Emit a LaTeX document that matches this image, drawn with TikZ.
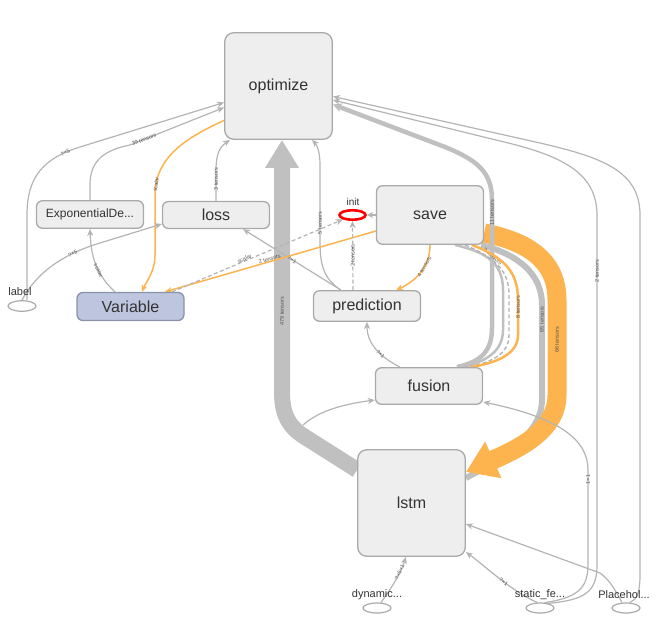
\documentclass[tikz,border=0pt]{standalone}
\usepackage{fontspec}
\setmainfont{Liberation Sans}
\usetikzlibrary{arrows.meta,shapes.geometric,calc}
\definecolor{boxfill}{HTML}{EEEEEE}
\definecolor{boxline}{HTML}{A9A9A9}
\definecolor{varfill}{HTML}{BDC6DE}
\definecolor{varline}{HTML}{8A93A8}
\definecolor{edgegray}{HTML}{B4B4B4}
\definecolor{bandgray}{HTML}{C0C0C0}
\definecolor{reforange}{HTML}{FDB44F}
\definecolor{txt}{HTML}{333333}
\definecolor{ltxt}{HTML}{555555}
\pgfdeclarelayer{bg}
\pgfsetlayers{bg,main}
\begin{document}
\begin{tikzpicture}[x=1pt,y=-1pt,
  box/.style={draw=boxline, fill=boxfill, line width=1.3pt, rounded corners=6pt, inner sep=0pt,
    text=txt, font=\fontsize{16}{16}\selectfont, minimum width=107pt},
  bigbox/.style={box, rounded corners=9pt, minimum width=107.5pt, minimum height=106.5pt},
  varbox/.style={box, draw=varline, fill=varfill},
  opnode/.style={ellipse, draw=boxline, line width=1.2pt, minimum width=28pt, minimum height=10pt, inner sep=0pt},
  optext/.style={font=\fontsize{11}{11}\selectfont, text=txt, inner sep=0pt},
  elabel/.style={font=\fontsize{5.5}{5.5}\selectfont, text=ltxt, inner sep=0.3pt},
  thin/.style={draw=edgegray, line width=1.2pt},
  edge/.style={thin, -{Stealth[length=7pt,width=6pt,inset=2pt]}},
  dedge/.style={edge, dashed, dash pattern=on 4pt off 2.5pt},
  oedge/.style={draw=reforange, line width=1.5pt, -{Stealth[length=7pt,width=6pt,inset=2pt]}},
  gthick/.style={draw=bandgray, line width=4.5pt},
  band/.style={draw=bandgray, line width=16pt},
  oband/.style={draw=reforange, line width=19pt},
]
\useasboundingbox (0,0) rectangle (659,631);

% nodes
\node[bigbox] (opt) at (278.5,86) {optimize};
\node[bigbox] (lstm) at (411.5,503) {lstm};
\node[box, minimum height=58.5pt] (save) at (430,215) {save};
\node[box, minimum height=27.5pt, font=\fontsize{12}{12}\selectfont] (expd) at (90,214.5) {ExponentialDe...};
\node[box, minimum height=27pt] (loss) at (216,215) {loss};
\node[varbox, minimum height=28pt] (var) at (130.5,306.5) {Variable};
\node[box, minimum height=30.5pt] (pred) at (367,306) {prediction};
\node[box, minimum height=36.5pt] (fusion) at (429,386) {fusion};

\node[ellipse, draw=red, line width=2.6pt, minimum width=26pt, minimum height=9.5pt, inner sep=0pt] (init) at (352.5,215) {};
\node[optext, font=\fontsize{10}{10}\selectfont] (inittxt) at (353,202) {init};
\node[opnode, minimum height=10.5pt] (lab) at (22,306) {};
\node[optext] (labtxt) at (20,292) {label};
\node[opnode] (dyn) at (377,608) {};
\node[optext] (dyntxt) at (377,595) {dynamic...};
\node[opnode] (stat) at (540,608) {};
\node[optext] (stattxt) at (540,595) {static\_fe...};
\node[opnode] (ph) at (626,608) {};
\node[optext] (phtxt) at (624,595) {Placehol...};
\coordinate (lstmtap) at (303,425);

\begin{pgfonlayer}{bg}
% thick bands
\draw[band, -{Triangle[length=28pt,width=32pt]}] ([yshift=33pt]lstm.west) -- (305,437)
  .. controls (289,427) and (282,415) .. (282,392)
  -- node[elabel, rotate=90, pos=0.32] {479 tensors} ([xshift=3.5pt]opt.south);
\draw[draw=bandgray, line width=6pt] ([xshift=-3pt]save.south east) .. controls (520,255) and (542,275) .. (542,305)
  -- node[elabel, rotate=90, pos=0.15] {65 tensors} (542,400)
  .. controls (542,430) and (510,455) .. ([yshift=25pt]lstm.east);
\draw[oband, -{Triangle[length=30pt,width=38pt]}] ([yshift=-18pt]save.east) .. controls (530,242) and (557,262) .. (557,300)
  -- node[elabel, rotate=90, pos=0.42] {66 tensors} (557,395)
  .. controls (557,430) and (520,448) .. ([yshift=31pt]lstm.east);
\draw[gthick, -{Stealth[length=9pt,width=9pt]}] ([xshift=28pt]fusion.north) .. controls (480,362) and (492,352) .. (492,328)
  -- node[elabel, rotate=90, pos=0.9] {11 tensors} (492,200)
  .. controls (492,172) and (477,160) .. (445,147) -- ([yshift=-18.5pt]opt.east);

% save -> fusion bundle
\draw[draw=bandgray, line width=2.5pt] ([xshift=25pt]save.south) .. controls (485,252) and (503,262) .. (503,290)
  node[elabel, sloped, pos=0.5, above=0.5pt] {3 tensors}
  -- (503,330) .. controls (503,352) and (485,362) .. ([xshift=33pt]fusion.north);
\draw[thin, dashed, dash pattern=on 4pt off 2.5pt, line width=1.4pt] ([xshift=35pt]save.south) .. controls (495,258) and (509,270) .. (509,295)
  -- (509,335) .. controls (509,355) and (490,363) .. ([xshift=37pt]fusion.north);
\draw[draw=reforange, line width=2.5pt] ([xshift=42pt]save.south) .. controls (505,258) and (518,272) .. (518,300)
  -- node[elabel, rotate=90, pos=0.2] {8 tensors} (518,335)
  .. controls (518,355) and (495,363) .. ([xshift=42pt]fusion.north);

% into optimize
\draw[edge] ([xshift=5pt]lab.north) -- (27,215) .. controls (27,175) and (45,158) .. (80,147)
  node[elabel, sloped, pos=0.85] {?×5} -- ([yshift=-16.5pt]opt.west);
\draw[edge] (expd.north) -- (90,185) .. controls (90,160) and (105,150) .. (130,145)
  -- node[elabel, sloped, pos=0.15] {39 tensors} ([yshift=-21.5pt]opt.west);
\draw[oedge] ([yshift=-34.5pt]opt.west) .. controls (185,138) and (155,158) .. (155,195)
  node[elabel, sloped, pos=0.9] {scalar}
  -- (155,255) .. controls (155,272) and (146,282) .. ([xshift=11.5pt]var.north);
\draw[edge] (loss.north) -- node[elabel, sloped, pos=0.7] {3 tensors} (216,170)
  .. controls (216,152) and (221,146) .. ([xshift=-48.5pt]opt.south);
\draw[edge] ([xshift=-26pt]pred.north) .. controls (322,278) and (320,262) .. (320,240)
  -- node[elabel, sloped, pos=0.23] {5 tensors} (320,165)
  .. controls (320,150) and (316,144) .. ([xshift=33.5pt]opt.south);
\draw[edge] (stat.30) .. controls (585,600) and (597,592) .. (597,565)
  -- node[elabel, rotate=90, pos=0.84] {2 tensors} (597,215)
  .. controls (597,172) and (560,155) .. (500,141) -- ([yshift=-14pt]opt.east);
\draw[edge] ([xshift=4pt]ph.north) .. controls (637,600) and (640,592) .. (640,575)
  -- (640,215) .. controls (640,170) and (600,157) .. (540,143) -- ([yshift=-10.5pt]opt.east);

% middle edges
\draw[edge] ([xshift=-26pt]pred.north) -- node[elabel, sloped, pos=0.5] {?×1} ([xshift=27pt]loss.south);
\draw[edge] (lab.north) .. controls (35,275) and (60,255) .. (100,243)
  node[elabel, sloped, pos=0.75] {?×5} -- ([yshift=-9pt]loss.west);
\draw[edge] ([xshift=-15.5pt]var.north) .. controls (100,278) and (91,262) ..
  node[elabel, sloped, pos=0.45] {scalar} (expd.south);
\draw[oedge] ([yshift=-16pt]save.west) -- node[elabel, sloped, pos=0.5, above=-0.5pt] {2 tensors} ([xshift=34.5pt]var.north);
\draw[dedge] ([xshift=41.5pt]var.north) -- node[elabel, sloped, pos=0.43, above=-0.5pt] {scalar} (init.205);
\draw[edge, -{Stealth[length=6pt,width=6pt,inset=1.5pt]}] (save.west) -- (init.east);
\draw[dedge] ([xshift=-14pt]pred.north) -- node[elabel, rotate=90, pos=0.5] {2 tensors} (init.south);
\draw[oedge] (save.south) .. controls (430,265) and (418,280) .. node[elabel, sloped, pos=0.4] {4 tensors} ([xshift=29pt]pred.north);
\draw[edge] ([xshift=-29pt]fusion.north) .. controls (382,358) and (367,345) .. node[elabel, sloped, pos=0.4] {?×1} (pred.south);
\draw[edge] (lstmtap) .. controls (320,410) and (345,404) .. ([yshift=-14pt]fusion.west);
\draw[edge] (stat.50) .. controls (575,598) and (588,590) .. (588,565)
  -- node[elabel, rotate=90, pos=0.9] {1×1} (588,470)
  .. controls (588,440) and (560,418) .. ([yshift=-16pt]fusion.east);

% into lstm
\draw[edge] ([xshift=4pt]dyn.north) .. controls (390,590) and (400,575) .. node[elabel, sloped, pos=0.7] {?×5×1} ([xshift=-5.5pt]lstm.south);
\draw[edge] ([xshift=-3pt]stat.north) .. controls (510,590) and (490,570) .. node[elabel, sloped, pos=0.45] {?×1} ([yshift=-49pt]lstm.east);
\draw[edge] ([xshift=-4pt]ph.north) .. controls (615,590) and (610,580) .. (600,573) -- ([yshift=-21pt]lstm.east);
\end{pgfonlayer}
\end{tikzpicture}
\end{document}
